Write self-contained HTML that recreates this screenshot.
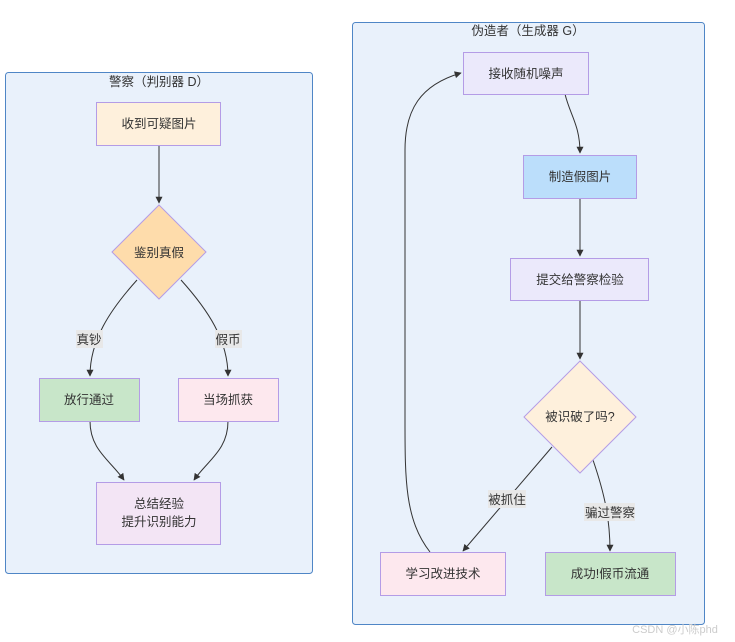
<!DOCTYPE html>
<html><head><meta charset="utf-8"><style>
html,body{margin:0;padding:0;background:#fff;}
svg{display:block;font-family:"Liberation Sans","Noto Sans CJK SC",sans-serif;}
</style></head><body>
<svg width="735" height="642" viewBox="0 0 735 642" xmlns="http://www.w3.org/2000/svg">
<defs><marker id="a" viewBox="0 0 10 10" refX="9" refY="5" markerWidth="7" markerHeight="7" orient="auto"><path d="M0,0L10,5L0,10z" fill="#333"/></marker></defs>
<g font-size="12.5" fill="#333" text-anchor="middle">
<rect x="5.5" y="72.5" width="307" height="501" rx="3" fill="#e9f1fb" stroke="#4f86c6"/>
<text x="159" y="86">警察（判别器 D）</text>
<rect x="352.5" y="22.5" width="352" height="602" rx="3" fill="#e9f1fb" stroke="#4f86c6"/>
<text x="528" y="35">伪造者（生成器 G）</text>

<g stroke="#333" fill="none" stroke-width="1">
<path d="M159,145V203" marker-end="url(#a)"/>
<path d="M137,280C110,310 90,340 90,376" marker-end="url(#a)"/>
<path d="M181,280C208,310 228,340 228,376" marker-end="url(#a)"/>
<path d="M90,421C90,450 110,460 124,480" marker-end="url(#a)"/>
<path d="M228,421C228,450 208,460 194,480" marker-end="url(#a)"/>
<path d="M565,94C570,115 580,125 580,153" marker-end="url(#a)"/>
<path d="M580,198V256" marker-end="url(#a)"/>
<path d="M580,300V359" marker-end="url(#a)"/>
<path d="M552,447L463,551" marker-end="url(#a)"/>
<path d="M593,460C605,495 610,520 610,551" marker-end="url(#a)"/>
<path d="M430,552C405,520 405,480 405,420V150C405,110 420,85 461,73" marker-end="url(#a)"/>
</g>

<rect x="96.5" y="102.5" width="124" height="43" fill="#fef0dc" stroke="#b49ce6"/>
<text x="159" y="128">收到可疑图片</text>
<path d="M159,205L206,252L159,299L112,252z" fill="#fedcab" stroke="#b49ce6"/>
<text x="159" y="257">鉴别真假</text>
<rect x="76" y="330" width="27" height="18" fill="#e8e8e8"/><text x="89" y="344">真钞</text>
<rect x="215" y="330" width="27" height="18" fill="#e8e8e8"/><text x="228" y="344">假币</text>
<rect x="39.5" y="378.5" width="100" height="43" fill="#c8e6c9" stroke="#b49ce6"/>
<text x="89" y="404">放行通过</text>
<rect x="178.5" y="378.5" width="100" height="43" fill="#fde8ee" stroke="#b49ce6"/>
<text x="228" y="404">当场抓获</text>
<rect x="96.5" y="482.5" width="124" height="62" fill="#f3e5f5" stroke="#b49ce6"/>
<text x="159" y="508">总结经验</text><text x="159" y="526">提升识别能力</text>

<rect x="463.5" y="52.5" width="125" height="42" fill="#ebe9fb" stroke="#b49ce6"/>
<text x="526" y="78">接收随机噪声</text>
<rect x="523.5" y="155.5" width="113" height="43" fill="#bbdefb" stroke="#b49ce6"/>
<text x="580" y="181">制造假图片</text>
<rect x="510.5" y="258.5" width="138" height="42" fill="#ebe9fb" stroke="#b49ce6"/>
<text x="580" y="284">提交给警察检验</text>
<path d="M580,361L636,417L580,473L524,417z" fill="#fef0dc" stroke="#b49ce6"/>
<text x="580" y="421">被识破了吗?</text>
<rect x="488" y="490" width="38" height="18" fill="#e8e8e8"/><text x="507" y="504">被抓住</text>
<rect x="584" y="503" width="51" height="18" fill="#e8e8e8"/><text x="610" y="517">骗过警察</text>
<rect x="380.5" y="552.5" width="125" height="43" fill="#fde8ee" stroke="#b49ce6"/>
<text x="443" y="578">学习改进技术</text>
<rect x="545.5" y="552.5" width="130" height="43" fill="#c8e6c9" stroke="#b49ce6"/>
<text x="610" y="578">成功!假币流通</text>
<text x="675" y="633" font-size="11" fill="#ccc">CSDN @小陈phd</text>
</g>
</svg>
</body></html>
